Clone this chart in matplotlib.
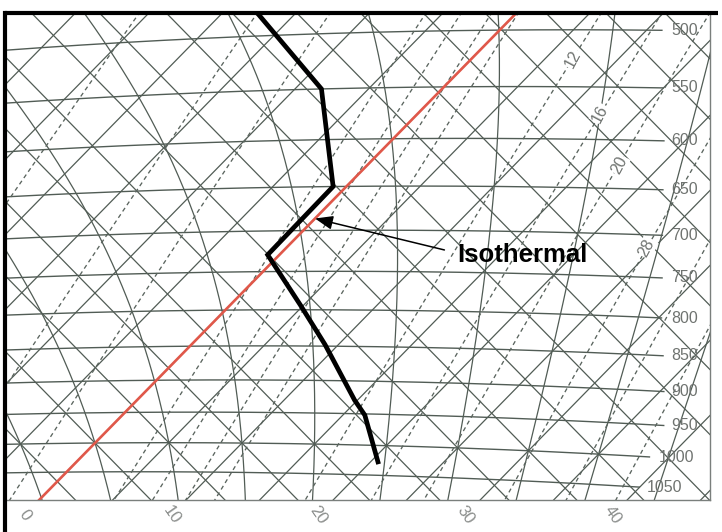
import numpy as np
import matplotlib
matplotlib.use("Agg")
import matplotlib.pyplot as plt
from matplotlib.lines import Line2D

# ---------------- data ----------------
isobars = [500, 550, 600, 650, 700, 750, 800, 850, 900, 950, 1000, 1050]
isobar_labels = ["500", "550", "600", "650", "700", "750", "800", "850", "900", "950", "1000", "1050"]
isotherms = [-40, -35, -30, -25, -20, -15, -10, -5, 0, 5, 10, 15, 20, 25, 30, 35, 40, 45]
dry_adiabats = [-15, -10, -5, 0, 5, 10, 15, 20, 25, 30, 35, 40, 45, 50, 55, 60, 65, 70, 75, 80]
moist_adiabats = [-10, -5, 0, 5, 10, 15, 20, 25, 30, 35, 40]
mixing_ratios = [1, 2, 3, 5, 6, 7, 8, 12, 16, 20, 28, 36, 44]
mr_label_values = [12, 16, 20, 28]
mr_label_pressures = [525, 575, 625, 715]
temp_ticks = [0, 10, 20, 30, 40]
temp_tick_labels = ["0", "10", "20", "30", "40"]
highlight_isotherm = 0
sounding_p = [470, 550, 650, 729, 794, 848, 929, 952, 1031]
sounding_T = [-19.1, -8.2, -0.9, -0.8, 4.8, 9.1, 14.8, 16.5, 20.7]
annot_text = "Isothermal"

# ---------------- tephigram transform ----------------
K = 278.0
KAPPA = 0.2857


def tp_to_xy(T, p):
    T = np.asarray(T, dtype=float)
    p = np.asarray(p, dtype=float)
    Tk = T + 273.15
    theta = Tk * (1000.0 / p) ** KAPPA
    v = K * np.log(theta / 273.15)
    return T + v, v - T


def theta_T_to_xy(theta_c, T):
    T = np.asarray(T, dtype=float)
    v = K * np.log((theta_c + 273.15) / 273.15)
    return T + v, v - T


def dewpoint_from_w(w, p):
    e = w * p / (622.0 + w)
    lg = np.log(e / 6.112)
    return 243.5 * lg / (17.67 - lg)


def integrate_moist(thw, p_arr):
    Rd, cpd, Lv, eps = 287.04, 1005.7, 2.501e6, 0.622

    def dTdp(T, p):
        Tc = T - 273.15
        es = 6.112 * np.exp(17.67 * Tc / (Tc + 243.5))
        rs = eps * es / (p - es)
        return (Rd * T + Lv * rs) / (p * (cpd + Lv * Lv * rs * eps / (Rd * T * T)))

    T = thw + 273.15
    Ts = [T]
    for i in range(1, len(p_arr)):
        dp = p_arr[i] - p_arr[i - 1]
        k1 = dTdp(T, p_arr[i - 1])
        k2 = dTdp(T + k1 * dp, p_arr[i])
        T = T + 0.5 * (k1 + k2) * dp
        Ts.append(T)
    return np.array(Ts) - 273.15


# ---------------- figure / axes ----------------
W, H = 722, 532
fig = plt.figure(figsize=(W / 100, H / 100), dpi=100)
fig.patch.set_facecolor("white")
ax_left, ax_right, ax_top, ax_bottom = 5, 710, 13, 500
ax = fig.add_axes([ax_left / W, (H - ax_bottom) / H, (ax_right - ax_left) / W, (ax_bottom - ax_top) / H])
ox, oy, sx, sy = 95.0, 443.0, 7.35, 7.5
ax.set_xlim((ax_left - ox) / sx, (ax_right - ox) / sx)
ax.set_ylim((oy - ax_bottom) / sy, (oy - ax_top) / sy)
ax.set_xticks([])
ax.set_yticks([])
for s in ("left", "top"):
    ax.spines[s].set_visible(False)
for s in ("right", "bottom"):
    ax.spines[s].set_color("#7a7f7c")
    ax.spines[s].set_linewidth(1.0)

grid_c = "#515c55"
grid_lw = 0.9

# isotherms
pp = np.linspace(380, 1250, 50)
for T in isotherms:
    X, Y = tp_to_xy(np.full_like(pp, T), pp)
    ax.plot(X, Y, color=grid_c, lw=grid_lw, zorder=1)

# dry adiabats
TT = np.linspace(-90, 90, 50)
for th in dry_adiabats:
    X, Y = theta_T_to_xy(th, TT)
    ax.plot(X, Y, color=grid_c, lw=grid_lw, zorder=1)

# isobars
isobar_end_px = {1000: 652, 1050: 640}
Tline = np.linspace(-80, 70, 800)
for p, lab in zip(isobars, isobar_labels):
    X, Y = tp_to_xy(Tline, np.full_like(Tline, p))
    xend = (isobar_end_px.get(p, 664) - ox) / sx
    m = X <= xend
    ax.plot(X[m], Y[m], color=grid_c, lw=1.0, zorder=1)
    yend = np.interp(xend, X, Y)
    ax.text(xend + 7 / sx, yend, lab, ha="left", va="center", fontsize=11.5,
            family="Liberation Sans", color="#6f7370", zorder=4)

# saturated adiabats
p_up = np.arange(1000, 379, -5.0)
p_down = np.arange(1000, 1255, 5.0)
for thw in moist_adiabats:
    Tu = integrate_moist(thw, p_up)
    Td_ = integrate_moist(thw, p_down)
    pm = np.concatenate([p_up[::-1], p_down[1:]])
    Tm = np.concatenate([Tu[::-1], Td_[1:]])
    X, Y = tp_to_xy(Tm, pm)
    ax.plot(X, Y, color=grid_c, lw=grid_lw, zorder=1)

# mixing ratio lines
pw = np.linspace(380, 1250, 80)
for w in mixing_ratios:
    Td = dewpoint_from_w(w, pw)
    X, Y = tp_to_xy(Td, pw)
    ax.plot(X, Y, color="#5a645e", lw=0.95, ls=(0, (3.2, 2.6)), zorder=1)

for w, p in zip(mr_label_values, mr_label_pressures):
    Td = dewpoint_from_w(w, p)
    X, Y = tp_to_xy(Td, p)
    ax.text(X, Y, str(w), rotation=62, ha="center", va="center", fontsize=11.5,
            family="Liberation Sans", color="#6f7370", zorder=4,
            bbox=dict(boxstyle="square,pad=0.05", fc="white", ec="none"))

# highlighted isotherm
pr = np.linspace(380, 1250, 50)
X, Y = tp_to_xy(np.full_like(pr, highlight_isotherm), pr)
ax.plot(X, Y, color="#e0584a", lw=1.9, zorder=2, solid_capstyle="butt")

# temperature labels along the bottom
ylab = -9.6
for T, lab in zip(temp_ticks, temp_tick_labels):
    ax.text(2 * T + ylab, ylab, lab, rotation=-55, ha="center", va="center",
            fontsize=12, family="Liberation Sans", color="#8a8d8b", clip_on=False)

# sounding
Xs, Ys = tp_to_xy(sounding_T, sounding_p)
ax.plot(Xs, Ys, color="black", lw=3.4, zorder=3, solid_joinstyle="miter", solid_capstyle="butt")

# annotation
tip = tp_to_xy(0.0, 686)
tail = tp_to_xy(10.9, 723)
txt = tp_to_xy(12.1, 729)
ax.annotate("", xy=(float(tip[0]), float(tip[1])), xytext=(float(tail[0]), float(tail[1])),
            arrowprops=dict(arrowstyle="-|>,head_length=0.9,head_width=0.35", color="black",
                            lw=1.1, shrinkA=0, shrinkB=0, mutation_scale=12), zorder=5)
ax.text(float(txt[0]), float(txt[1]), annot_text, ha="left", va="center", fontsize=18.5,
        family="Liberation Sans", fontweight="bold", color="black", zorder=6)

# black frame (left and top)
fig.add_artist(Line2D([5 / W, 5 / W], [0, (H - 13) / H], transform=fig.transFigure,
                      color="black", lw=3.0, solid_capstyle="projecting"))
fig.add_artist(Line2D([5 / W, 718 / W], [(H - 13) / H, (H - 13) / H], transform=fig.transFigure,
                      color="black", lw=3.0, solid_capstyle="butt"))

fig.savefig("out.png", dpi=100)
